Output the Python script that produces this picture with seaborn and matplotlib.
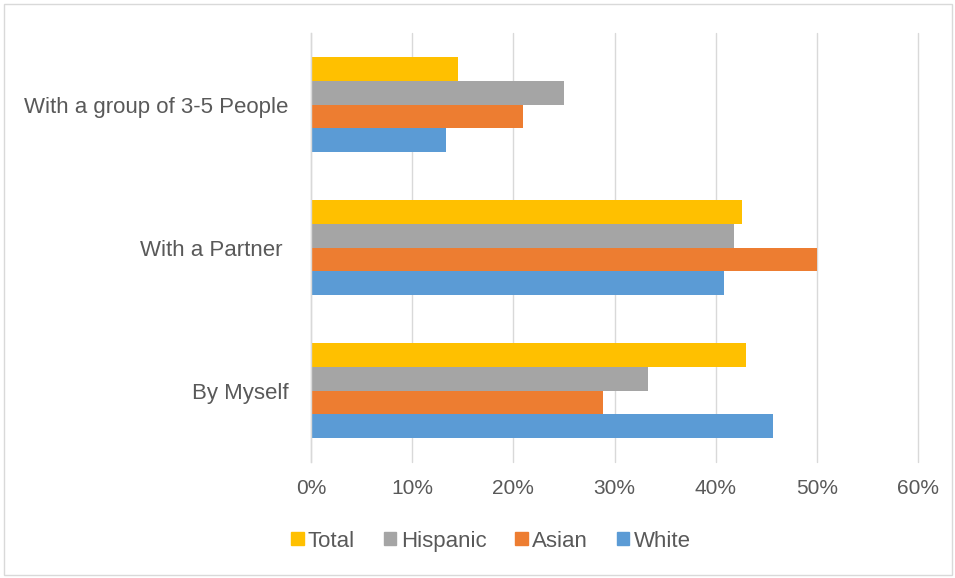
import matplotlib
matplotlib.use("Agg")
import matplotlib.pyplot as plt
import matplotlib.patches as mpatches
from matplotlib.ticker import PercentFormatter
import seaborn as sns
import pandas as pd

categories = ["With a group of 3-5 People", "With a Partner ", "By Myself"]
series = ["Total", "Hispanic", "Asian", "White"]
total = [14.5, 42.6, 43.0]
hispanic = [25.0, 41.8, 33.3]
asian = [21.0, 50.0, 28.9]
white = [13.3, 40.8, 45.7]
colors = ["#FFC000", "#A5A5A5", "#ED7D31", "#5B9BD5"]
xticks = [0, 10, 20, 30, 40, 50, 60]

rows = []
for s, vals in zip(series, [total, hispanic, asian, white]):
    for c, v in zip(categories, vals):
        rows.append({"category": c, "series": s, "value": v})
df = pd.DataFrame(rows)

sns.set_theme(style="white")
plt.rcParams["font.family"] = ["Liberation Sans", "DejaVu Sans"]
text_color = "#595959"

fig = plt.figure(figsize=(9.55, 5.78), dpi=100)
ax = fig.add_axes([311 / 955, 1 - 462 / 578, 607 / 955, 429 / 578])

sns.barplot(data=df, y="category", x="value", hue="series", order=categories,
            hue_order=series, palette=colors, orient="h", width=0.67,
            saturation=1, ax=ax, legend=False, errorbar=None, linewidth=0)

ax.set_xlim(0, 60)
ax.set_xticks(xticks)
ax.xaxis.set_major_formatter(PercentFormatter(decimals=0))
ax.grid(axis="x", color="#D9D9D9", linewidth=1)
for gl in ax.get_xgridlines():
    gl.set_clip_on(False)
ax.set_axisbelow(True)
for sp in ["top", "right", "bottom"]:
    ax.spines[sp].set_visible(False)
ax.spines["left"].set_color("#D9D9D9")
ax.spines["left"].set_linewidth(1)
ax.set_xlabel("")
ax.set_ylabel("")
ax.tick_params(axis="x", length=0, pad=12, labelsize=15, labelcolor=text_color)
ax.tick_params(axis="y", length=0, pad=16, labelsize=16, labelcolor=text_color)

handles = [mpatches.Patch(color=c, label=s) for s, c in zip(series, colors)]
fig.legend(handles=handles, loc="center", bbox_to_anchor=(0.514, 0.064), ncol=4,
           frameon=False, handlelength=0.55, handleheight=0.55, handletextpad=0.2,
           columnspacing=1.3, fontsize=16, labelcolor=text_color)

fig.patches.append(mpatches.Rectangle((4 / 955, 3 / 578), 948 / 955, 571 / 578,
                                      transform=fig.transFigure, fill=False,
                                      edgecolor="#D9D9D9", linewidth=1))

fig.savefig("out.png", dpi=100)
